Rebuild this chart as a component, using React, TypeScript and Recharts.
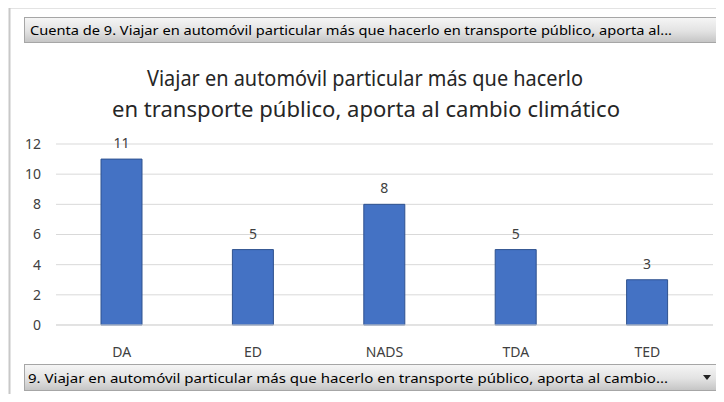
import { BarChart, Bar, XAxis, YAxis, CartesianGrid, LabelList } from 'recharts';

const categories = ['DA', 'ED', 'NADS', 'TDA', 'TED'];
const counts = [11, 5, 8, 5, 3];
const yTicks = [0, 2, 4, 6, 8, 10, 12];

const titleLines = [
  'Viajar en automóvil particular más que hacerlo',
  'en transporte público, aporta al cambio climático',
];
const topButtonText = 'Cuenta de 9. Viajar en automóvil particular más que hacerlo en transporte público, aporta al...';
const bottomButtonText = '9. Viajar en automóvil particular más que hacerlo en transporte público, aporta al cambio...';

const data = categories.map((name, i) => ({ name, count: counts[i] }));

const font = '"Noto Sans", "Open Sans", sans-serif';

export default function App() {
  return (
    <div style={{ position: 'relative', width: 724, height: 402, margin: -8, overflow: 'hidden', background: '#fff' }}>
      <div style={{ position: 'absolute', left: 0, top: 0 }}>
        <BarChart width={724} height={402} data={data} margin={{ top: 144, right: 11, bottom: 47, left: 0 }}>
          <CartesianGrid stroke="#d9d9d9" vertical={false} />
          <XAxis
            dataKey="name"
            height={30}
            tickLine={false}
            axisLine={{ stroke: '#d9d9d9' }}
            tickMargin={16}
            tick={{ fill: '#404040', fontSize: 14, fontFamily: font }}
            interval={0}
          />
          <YAxis
            domain={[0, 12]}
            ticks={yTicks}
            width={56}
            tickLine={false}
            axisLine={false}
            tickSize={0}
            tickMargin={15}
            tick={{ fill: '#404040', fontSize: 14, fontFamily: font }}
          />
          <Bar dataKey="count" fill="#4472C4" stroke="#2F528F" strokeWidth={1} barSize={41} isAnimationActive={false}>
            <LabelList dataKey="count" position="top" offset={11} fill="#404040" fontSize={14} fontFamily={font} />
          </Bar>
        </BarChart>
      </div>

      <svg width={724} height={402} style={{ position: 'absolute', left: 0, top: 0, pointerEvents: 'none' }}>
        <defs>
          <linearGradient id="btn" x1="0" y1="0" x2="0" y2="1">
            <stop offset="0%" stopColor="#f6f6f6" />
            <stop offset="55%" stopColor="#e2e2e2" />
            <stop offset="100%" stopColor="#c4c4c4" />
          </linearGradient>
        </defs>
        {/* cut-off heading from the page above */}
        <text x={-4} y={5} fontSize={24} fontWeight="bold" fontFamily='"Liberation Serif", serif' fill="#222">
          o climático
        </text>

        {/* pivot frame */}
        <line x1={9.5} y1={7} x2={9.5} y2={402} stroke="#c8c8c8" strokeWidth={2} />
        <line x1={9} y1={7.5} x2={721} y2={7.5} stroke="#c8c8c8" strokeWidth={2} />

        {/* field buttons */}
        <rect x={24.5} y={17.5} width={693} height={25} fill="url(#btn)" stroke="#a6a6a6" />
        <text x={30} y={34.5} fontSize={13} fontFamily={font} fill="#000" textLength={642} lengthAdjust="spacingAndGlyphs">
          {topButtonText}
        </text>
        <rect x={24.5} y={364.5} width={693} height={26} fill="url(#btn)" stroke="#a6a6a6" />
        <text x={28} y={382.5} fontSize={13} fontFamily={font} fill="#000" textLength={640} lengthAdjust="spacingAndGlyphs">
          {bottomButtonText}
        </text>
        <path d="M703 375 L711 375 L707 380 Z" fill="#222" />

        {/* chart title */}
        <text x={147} y={86} fontSize={22} fontFamily={font} fill="#262626" textLength={436} lengthAdjust="spacingAndGlyphs">
          {titleLines[0]}
        </text>
        <text x={112} y={117} fontSize={22} fontFamily={font} fill="#262626" textLength={508} lengthAdjust="spacingAndGlyphs">
          {titleLines[1]}
        </text>
      </svg>
    </div>
  );
}
